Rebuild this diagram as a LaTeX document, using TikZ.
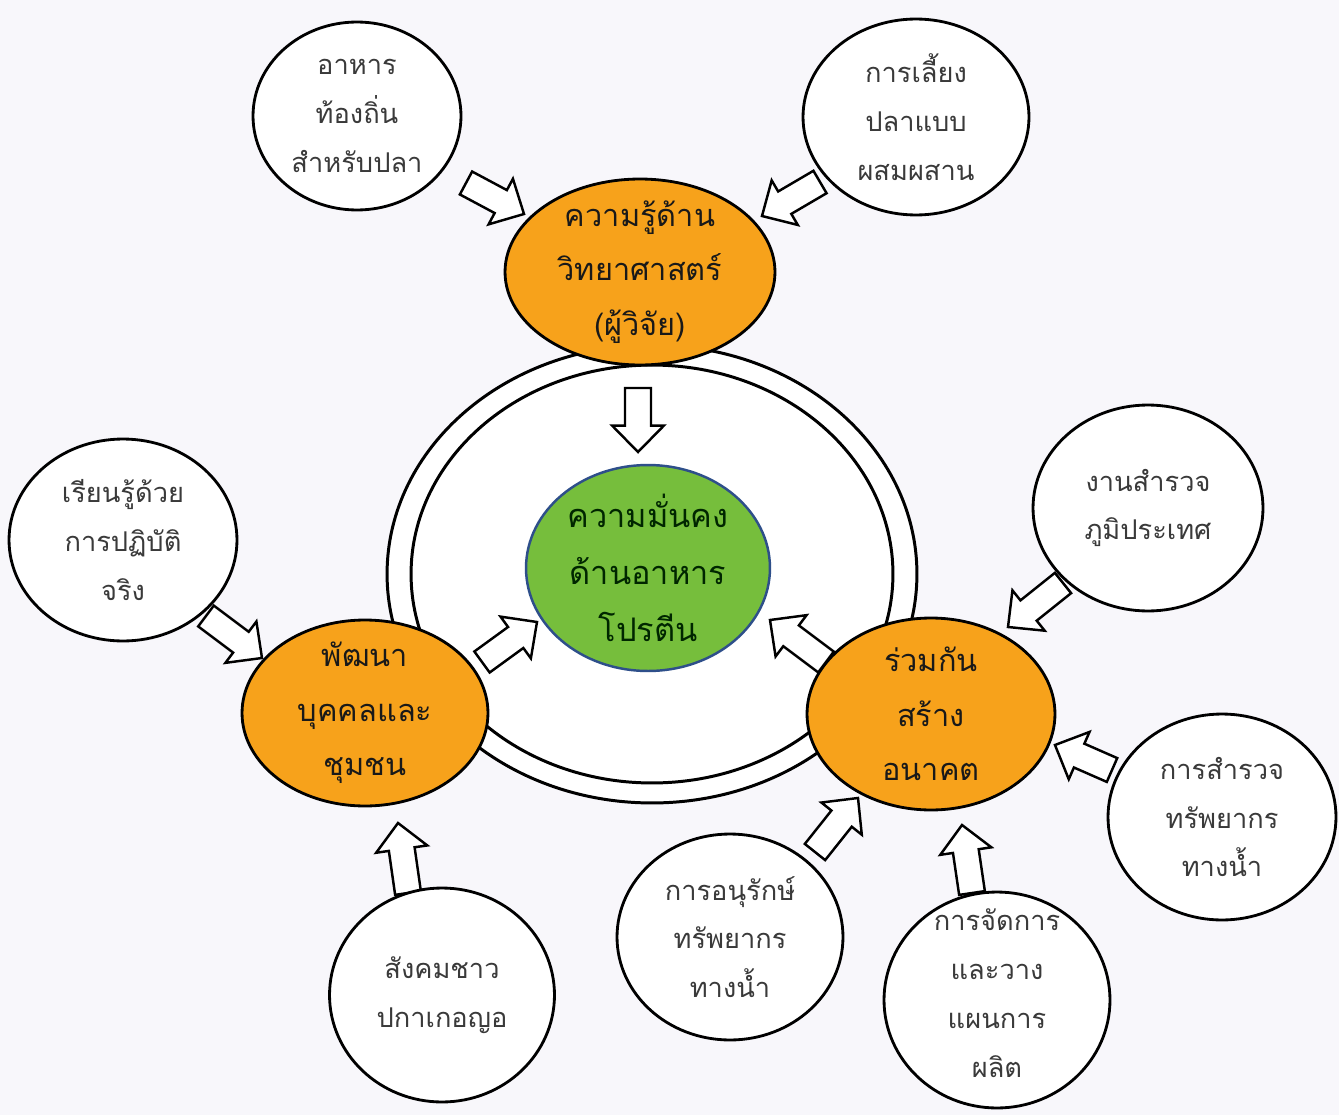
\documentclass[tikz,border=0pt]{standalone}
\usepackage{fontspec}
\setmainfont[Script=Thai]{Loma}
\usetikzlibrary{shapes.geometric,calc}
\definecolor{bgc}{HTML}{F8F7FB}
\definecolor{orangefill}{HTML}{F7A21B}
\definecolor{greenfill}{HTML}{76BE3C}
\definecolor{greenline}{HTML}{2E4F8A}
\definecolor{greytext}{HTML}{3A3A3A}
\tikzset{
  ringline/.style={ellipse, draw=black, line width=1.7pt, fill=white, inner sep=0pt},
  orangebox/.style={ellipse, draw=black, line width=1.6pt, fill=orangefill, inner sep=0pt},
  greenbox/.style={ellipse, draw=greenline, line width=1.4pt, fill=greenfill, inner sep=0pt},
  wcirc/.style={ellipse, draw=black, line width=1.6pt, fill=white, inner sep=0pt},
  wtext/.style={align=center, font=\fontsize{15.5pt}{27.8pt}\selectfont, text=greytext, inner sep=0pt},
  otext/.style={align=center, font=\fontsize{17.5pt}{31pt}\selectfont, text=black!90, inner sep=0pt},
  gtext/.style={align=center, font=\fontsize{18.5pt}{32.3pt}\selectfont, text=black!85!green, inner sep=0pt},
  barrowline/.style={draw=black, line width=1.4pt, fill=white, line join=miter}
}
\newcommand\blockarr[2]{%
  \coordinate (neck) at ($(#2)!15pt!(#1)$);
  \draw[barrowline] ($(#1)!7.4pt!90:(#2)$) -- ($(neck)!7.4pt!90:(#2)$) -- ($(neck)!14.7pt!90:(#2)$) -- (#2) -- ($(neck)!14.7pt!-90:(#2)$) -- ($(neck)!7.4pt!-90:(#2)$) -- ($(#1)!7.4pt!-90:(#2)$) -- cycle;}
\begin{document}
\begin{tikzpicture}[x=0.02cm,y=-0.02cm]
\fill[bgc] (0,0) rectangle (1339,1115);
\useasboundingbox (0,0) rectangle (1339,1115);
% ring
\node[ringline, minimum width=10.6cm, minimum height=9.16cm] (ringout) at (652,574) {};
\node[ringline, minimum width=9.64cm, minimum height=8.36cm] (ringin) at (652,574) {};
% central goal
\node[greenbox, minimum width=4.88cm, minimum height=4.12cm,
  label={[gtext]center:ความมั่นคง\\ด้านอาหาร\\โปรตีน}] (goal) at (648,568) {};
% orange nodes
\node[orangebox, minimum width=5.4cm, minimum height=3.72cm,
  label={[otext]center:ความรู้ด้าน\\วิทยาศาสตร์\\(ผู้วิจัย)}] (sci) at (640,272) {};
\node[orangebox, minimum width=4.92cm, minimum height=3.72cm,
  label={[otext]center:พัฒนา\\บุคคลและ\\ชุมชน}] (dev) at (365,713) {};
\node[orangebox, minimum width=4.96cm, minimum height=3.84cm,
  label={[otext]center:ร่วมกัน\\สร้าง\\อนาคต}] (fut) at (931,714) {};
% arrow end points
\coordinate (a1t) at (466,183);  \coordinate (a1h) at (524,214);
\coordinate (a2t) at (820,182);  \coordinate (a2h) at (762,216);
\coordinate (a3t) at (638,388);  \coordinate (a3h) at (638,452);
\coordinate (a4t) at (206,616);  \coordinate (a4h) at (262,658);
\coordinate (a5t) at (482,662);  \coordinate (a5h) at (537,622);
\coordinate (a6t) at (826,662);  \coordinate (a6h) at (770,620);
\coordinate (a7t) at (1063,583); \coordinate (a7h) at (1008,627);
\coordinate (a8t) at (1112,770); \coordinate (a8h) at (1055,745);
\coordinate (a9t) at (815,852);  \coordinate (a9h) at (858,798);
\coordinate (a10t) at (972,893); \coordinate (a10h) at (962,825);
\coordinate (a11t) at (408,893); \coordinate (a11h) at (398,823);
\blockarr{a1t}{a1h}
\blockarr{a2t}{a2h}
\blockarr{a3t}{a3h}
\blockarr{a4t}{a4h}
\blockarr{a5t}{a5h}
\blockarr{a6t}{a6h}
\blockarr{a7t}{a7h}
\blockarr{a8t}{a8h}
\blockarr{a9t}{a9h}
\blockarr{a10t}{a10h}
\blockarr{a11t}{a11h}
% white circles
\node[wcirc, minimum width=4.16cm, minimum height=3.76cm,
  label={[wtext]center:อาหาร\\ท้องถิ่น\\สำหรับปลา}] (c1) at (357,116) {};
\node[wcirc, minimum width=4.52cm, minimum height=3.92cm,
  label={[wtext]center:การเลี้ยง\\ปลาแบบ\\ผสมผสาน}] (c2) at (916,117) {};
\node[wcirc, minimum width=4.56cm, minimum height=4.04cm,
  label={[wtext]center:เรียนรู้ด้วย\\การปฏิบัติ\\จริง}] (c3) at (123,540) {};
\node[wcirc, minimum width=4.6cm, minimum height=4.12cm,
  label={[wtext]center:งานสำรวจ\\ภูมิประเทศ}] (c4) at (1148,508) {};
\node[wcirc, minimum width=4.56cm, minimum height=4.12cm,
  label={[wtext]center:การสำรวจ\\ทรัพยากร\\ทางน้ำ}] (c5) at (1222,817) {};
\node[wcirc, minimum width=4.52cm, minimum height=4.12cm,
  label={[wtext]center:การอนุรักษ์\\ทรัพยากร\\ทางน้ำ}] (c6) at (730,937) {};
\node[wcirc, minimum width=4.52cm, minimum height=4.32cm,
  label={[wtext,yshift=4pt]center:การจัดการ\\และวาง\\แผนการ\\ผลิต}] (c7) at (997,1000) {};
\node[wcirc, minimum width=4.5cm, minimum height=4.28cm,
  label={[wtext]center:สังคมชาว\\ปกาเกอญอ}] (c8) at (442,995) {};
\end{tikzpicture}
\end{document}
